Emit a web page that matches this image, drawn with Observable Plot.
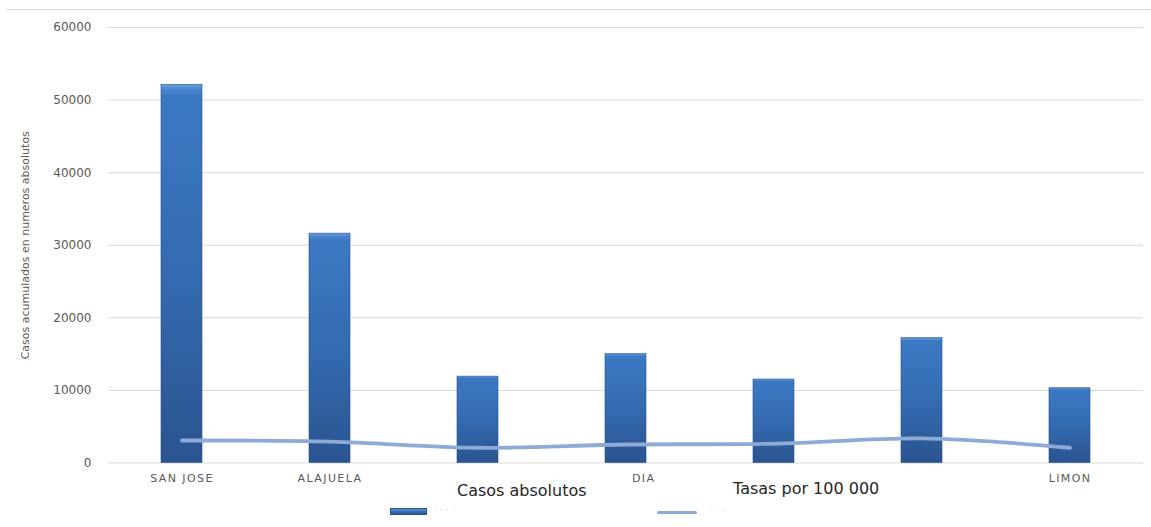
<!DOCTYPE html>
<html><head><meta charset="utf-8">
<script src="https://cdn.jsdelivr.net/npm/d3@7"></script>
<script src="https://cdn.jsdelivr.net/npm/@observablehq/plot@0.6"></script>
<style>
body{margin:0;background:#fff;}
#wrap{position:relative;width:1151px;height:527px;overflow:hidden;font-family:"DejaVu Sans",sans-serif;}
#chart{position:absolute;left:0;top:0;}
.topline{position:absolute;left:6px;top:9px;width:1145px;height:0;border-top:1px solid #d9d9d9;}
.cover{position:absolute;top:469px;height:20px;background:#fff;}
.legtext{position:absolute;font-size:16px;color:#262626;white-space:nowrap;}
.faint{position:absolute;font-size:9px;color:#d0d0d0;letter-spacing:3px;}
.sw-bar{position:absolute;left:390px;top:508px;width:35px;height:5px;background:linear-gradient(#5b95db,#3a74bd 40%,#2a5490);border:0.5px solid #2b4f82;}
.sw-line{position:absolute;left:657px;top:511px;width:40px;height:3px;background:#8eaad6;border-radius:2px;}
#chart g[aria-label="x-axis tick label"] text{letter-spacing:1.4px;}
</style></head><body>
<div id="wrap">
  <div id="chart"></div>
  <div class="topline"></div>
  <div class="cover" style="left:440px;width:193px"></div>
  <div class="legtext" style="left:457px;top:481px">Casos absolutos</div>
  <div class="legtext" style="left:733px;top:479px">Tasas por 100 000</div>
  <div class="sw-bar"></div>
  <div class="faint" style="left:434px;top:505px">····</div>
  <div class="sw-line"></div>
  <div class="faint" style="left:710px;top:505px">···</div>
</div>
<script>
const provincias = ["SAN JOSE", "ALAJUELA", "CARTAGO", "HEREDIA", "GUANACASTE", "PUNTARENAS", "LIMON"];
// x tick labels as visible in the picture (others hidden behind the legend)
const etiquetasX = ["SAN JOSE", "ALAJUELA", "", "HEREDIA", "", "", "LIMON"];
const casosAbsolutos = [52100, 31600, 11900, 15000, 11500, 17200, 10300];
const tasasPor100000 = [3100, 2950, 2100, 2550, 2650, 3400, 2100];
const yTicks = [0, 10000, 20000, 30000, 40000, 50000, 60000];
const yLabel = "Casos acumulados en numeros absolutos";

const rows = provincias.map((p, i) => ({provincia: p, casos: casosAbsolutos[i], tasa: tasasPor100000[i]}));

const plot = Plot.plot({
  width: 1151,
  height: 500,
  marginTop: 27,
  marginBottom: 37.5,
  marginLeft: 108,
  marginRight: 8,
  style: {fontFamily: "DejaVu Sans", background: "transparent", color: "#595959"},
  x: {domain: provincias, paddingInner: 0.72, paddingOuter: 0.353, label: null},
  y: {domain: [0, 60000], label: null},
  marks: [
    Plot.ruleY(yTicks, {stroke: "#d9d9d9", strokeWidth: 1}),
    Plot.axisY(yTicks, {tickSize: 0, tickPadding: 17, fontSize: 12, tickFormat: d => String(d), label: null, fill: "#595959"}),
    Plot.axisX({tickSize: 0, tickPadding: 11, fontSize: 11, label: null, fill: "#595959",
      tickFormat: d => etiquetasX[provincias.indexOf(d)]}),
    Plot.barY(rows, {x: "provincia", y: "casos", fill: "url(#barGrad)", stroke: "#2b4f82", strokeWidth: 0.6}),
    Plot.line(rows, {x: "provincia", y: "tasa", stroke: "#8eaad6", strokeWidth: 3.8, curve: "catmull-rom"}),
    Plot.text([yLabel], {text: d => d, frameAnchor: "left", textAnchor: "middle", rotate: -90, dx: -83, fontSize: 11, fill: "#595959"})
  ]
});

const svg = d3.select(plot);
svg.insert("defs", ":first-child").html(`
  <linearGradient id="barGrad" x1="0" y1="0" x2="0" y2="1">
    <stop offset="0" stop-color="#6aa2e2"/>
    <stop offset="0.012" stop-color="#4d89d2"/>
    <stop offset="0.03" stop-color="#3c79c3"/>
    <stop offset="0.5" stop-color="#346bb1"/>
    <stop offset="1" stop-color="#2a5490"/>
  </linearGradient>`);
svg.selectAll("path").filter(function(){ return this.getAttribute("stroke") === "#8eaad6"; })
  .style("filter", "drop-shadow(0px 2px 1.5px rgba(0,0,0,0.25))");
document.getElementById("chart").appendChild(plot);
</script>
</body></html>
